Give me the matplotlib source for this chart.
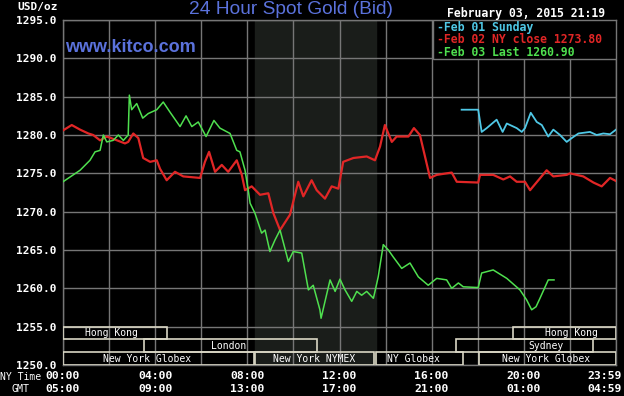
import matplotlib
matplotlib.use("Agg")
import matplotlib.pyplot as plt
from matplotlib.patches import Rectangle

# hours since 00:00 NY time, price in USD/oz
feb03_hours = [0.0, 0.74, 1.17, 1.39, 1.61, 1.75, 1.90, 2.18, 2.40, 2.62, 2.83, 2.88, 2.98,
               3.20, 3.46, 3.70, 4.07, 4.35, 4.64, 5.08, 5.34, 5.59, 5.87, 6.21, 6.55, 6.81,
               7.25, 7.54, 7.68, 7.90, 8.04, 8.12, 8.33, 8.62, 8.77, 8.98, 9.20, 9.42, 9.78,
               9.99, 10.36, 10.65, 10.86, 11.15, 11.20, 11.59, 11.81, 12.02, 12.24, 12.53,
               12.75, 12.96, 13.18, 13.47, 13.54, 13.68, 13.90, 14.12, 14.33, 14.70, 15.06,
               15.42, 15.85, 16.22, 16.65, 16.87, 17.16, 17.37, 18.02, 18.17, 18.67, 19.26,
               19.83, 20.12, 20.34, 20.53, 20.70, 21.06, 21.31]
feb03_price = [1273.9, 1275.4, 1276.7, 1277.8, 1278.0, 1280.0, 1279.1, 1279.3, 1280.0, 1279.3,
               1280.0, 1285.2, 1283.3, 1284.1, 1282.2, 1282.8, 1283.3, 1284.3, 1283.0, 1281.1,
               1282.5, 1281.1, 1281.7, 1279.8, 1281.9, 1280.9, 1280.2, 1278.0, 1277.8, 1275.4,
               1272.8, 1271.1, 1269.8, 1267.2, 1267.6, 1264.8, 1266.3, 1267.6, 1263.5, 1264.8,
               1264.6, 1259.8, 1260.4, 1257.2, 1256.1, 1261.1, 1259.6, 1261.2, 1259.8, 1258.3,
               1259.6, 1259.1, 1259.6, 1258.7, 1259.6, 1261.5, 1265.7, 1265.0, 1264.1, 1262.6,
               1263.3, 1261.5, 1260.4, 1261.3, 1261.1, 1260.0, 1260.7, 1260.2, 1260.1, 1262.0,
               1262.4, 1261.3, 1259.8, 1258.5, 1257.2, 1257.6, 1258.7, 1261.1, 1261.1]

feb02_hours = [0.0, 0.38, 0.74, 1.10, 1.31, 1.61, 1.90, 2.26, 2.69, 2.83, 3.05, 3.27, 3.48,
               3.78, 4.07, 4.21, 4.50, 4.86, 5.22, 5.95, 6.16, 6.34, 6.60, 6.89, 7.17, 7.54,
               7.76, 7.90, 8.19, 8.55, 8.91, 9.13, 9.42, 9.85, 10.21, 10.43, 10.79, 11.01,
               11.37, 11.66, 11.95, 12.16, 12.60, 13.18, 13.54, 13.76, 13.97, 14.27, 14.48,
               14.99, 15.23, 15.49, 15.71, 15.93, 16.22, 16.87, 17.09, 18.02, 18.10, 18.67,
               19.11, 19.40, 19.69, 20.05, 20.27, 20.99, 21.28, 21.86, 22.00, 22.58, 23.02,
               23.38, 23.74, 24.0]
feb02_price = [1280.6, 1281.3, 1280.7, 1280.2, 1280.0, 1279.3, 1279.8, 1279.4, 1278.9, 1279.1,
               1280.2, 1279.6, 1277.0, 1276.5, 1276.7, 1275.6, 1274.1, 1275.2, 1274.6, 1274.4,
               1276.5, 1277.8, 1275.2, 1276.1, 1275.2, 1276.7, 1274.8, 1272.8, 1273.3, 1272.2,
               1272.4, 1269.8, 1267.6, 1269.6, 1273.9, 1272.0, 1274.1, 1272.8, 1271.7, 1273.3,
               1273.0, 1276.5, 1277.0, 1277.2, 1276.7, 1278.5, 1281.3, 1279.1, 1279.8, 1279.8,
               1280.9, 1280.0, 1277.2, 1274.4, 1274.8, 1275.1, 1273.9, 1273.8, 1274.8, 1274.8,
               1274.2, 1274.6, 1273.9, 1273.9, 1272.8, 1275.4, 1274.6, 1274.8, 1275.0, 1274.6,
               1273.8, 1273.3, 1274.4, 1274.0]

feb01_hours = [17.30, 18.02, 18.17, 18.39, 18.82, 19.08, 19.26, 19.69, 19.91, 20.05, 20.30,
               20.56, 20.78, 21.06, 21.28, 21.57, 21.86, 22.08, 22.37, 22.87, 23.16, 23.45,
               23.74, 24.0]
feb01_price = [1283.3, 1283.3, 1280.4, 1280.9, 1282.0, 1280.4, 1281.5, 1280.9, 1280.4, 1280.9,
               1282.9, 1281.7, 1281.3, 1279.8, 1280.7, 1280.0, 1279.1, 1279.6, 1280.2, 1280.4,
               1280.0, 1280.2, 1280.1, 1280.7]

y_ticks = [1250, 1255, 1260, 1265, 1270, 1275, 1280, 1285, 1290, 1295]
ny_labels = ["00:00", "04:00", "08:00", "12:00", "16:00", "20:00", "23:59"]
gmt_labels = ["05:00", "09:00", "13:00", "17:00", "21:00", "01:00", "04:59"]
label_hours = [0, 4, 8, 12, 16, 20, 24]

# session boxes: (row, start hour, end hour, label, label hour)
sessions = [
    (0, 0.0, 4.51, "Hong Kong", 2.1),
    (0, 19.53, 24.0, "Hong Kong", 22.05),
    (1, 3.52, 11.02, "London", 7.17),
    (1, 17.06, 23.0, "Sydney", 20.98),
    (2, 0.0, 8.29, "New York Globex", 3.65),
    (2, 8.33, 13.5, "New York NYMEX", 10.9),
    (2, 13.58, 17.36, "NY Globex", 15.2),
    (2, 18.05, 24.0, "New York Globex", 20.96),
]
nymex_span = (8.33, 13.58)

W, H = 624, 396
fig = plt.figure(figsize=(W / 100, H / 100), dpi=100, facecolor="black")
ax = fig.add_axes([63 / W, 31 / H, 553 / W, 345 / H], facecolor="black")

mono = "DejaVu Sans Mono"
grid_c = "#767676"
box_c = "#d9d6c4"
blue = "#5b72dc"

ax.axvspan(*nymex_span, color="#1a1d1a", zorder=0)
ax.set_xlim(0, 24)
ax.set_ylim(1250, 1295)
ax.set_xticks(range(0, 25, 2))
ax.set_yticks(y_ticks)
ax.grid(True, color=grid_c, linewidth=1.0, zorder=1)
ax.set_axisbelow(True)
for s in ax.spines.values():
    s.set_color(grid_c)
    s.set_linewidth(1.0)
ax.tick_params(length=0, labelbottom=False)
ax.set_yticklabels([f"{v:.1f}" for v in y_ticks], color="white",
                   fontfamily=mono, fontweight="bold", fontsize=8)
ax.tick_params(axis="y", pad=5)

ax.plot(feb02_hours, feb02_price, color="#e12626", linewidth=1.6, zorder=3)
ax.plot(feb03_hours, feb03_price, color="#4fe04f", linewidth=1.1, zorder=4)
ax.plot(feb01_hours, feb01_price, color="#4fc8e6", linewidth=1.3, zorder=4)

row_h = 5 / 3
for row, h0, h1, name, hx in sessions:
    top = 1255 - row * row_h
    ax.add_patch(Rectangle((h0, top - row_h), h1 - h0, row_h, fill=False,
                           edgecolor=box_c, linewidth=1.2, zorder=5))
    ax.text(hx, top - row_h / 2, name, color="white", fontfamily=mono, fontsize=7,
            ha="center", va="center", zorder=6)

# legend box
ax.add_patch(Rectangle((16.06, 1289.9), 24 - 16.06, 5.1, facecolor="black",
                       edgecolor=grid_c, linewidth=1.0, zorder=5))
legend_items = [("-Feb 01 Sunday", "#4fc8e6"),
                ("-Feb 02 NY close 1273.80", "#e12626"),
                ("-Feb 03 Last 1260.90", "#4fe04f")]
for i, (txt, c) in enumerate(legend_items):
    fig.text(437 / W, 1 - (27 + 12.5 * i) / H, txt, color=c, fontfamily=mono,
             fontweight="bold", fontsize=8.3, ha="left", va="center")

# time labels below the axes
for h, ny, gmt in zip(label_hours, ny_labels, gmt_labels):
    xp = (63 + h * 553 / 24) / W
    ha = "center"
    if h == 24:
        xp, ha = 622 / W, "right"
    fig.text(xp, 1 - 376 / H, ny, color="white", fontfamily=mono, fontweight="bold",
             fontsize=8.2, ha=ha, va="center")
    fig.text(xp, 1 - 389 / H, gmt, color="white", fontfamily=mono, fontweight="bold",
             fontsize=8.2, ha=ha, va="center")
fig.text(0 / W, 1 - 377 / H, "NY Time", color="white", fontfamily=mono, fontsize=7,
         ha="left", va="center")
fig.text(21 / W, 1 - 389 / H, "GMT", color="white", fontfamily=mono, fontsize=7.2,
         ha="center", va="center")

fig.text(17 / W, 1 - 7 / H, "USD/oz", color="white", fontfamily=mono, fontweight="bold",
         fontsize=8, ha="left", va="center")
fig.text(291 / W, 1 - 9 / H, "24 Hour Spot Gold (Bid)", color=blue,
         fontfamily="Liberation Sans", fontsize=13.8, ha="center", va="center")
fig.text(65 / W, 1 - 47 / H, "www.kitco.com", color=blue, fontfamily="Liberation Sans",
         fontweight="bold", fontsize=13, ha="left", va="center", zorder=10)
fig.text(605 / W, 1 - 13 / H, "February 03, 2015 21:19", color="white", fontfamily=mono,
         fontweight="bold", fontsize=8.3, ha="right", va="center")

fig.savefig("out.png", dpi=100, facecolor="black")
